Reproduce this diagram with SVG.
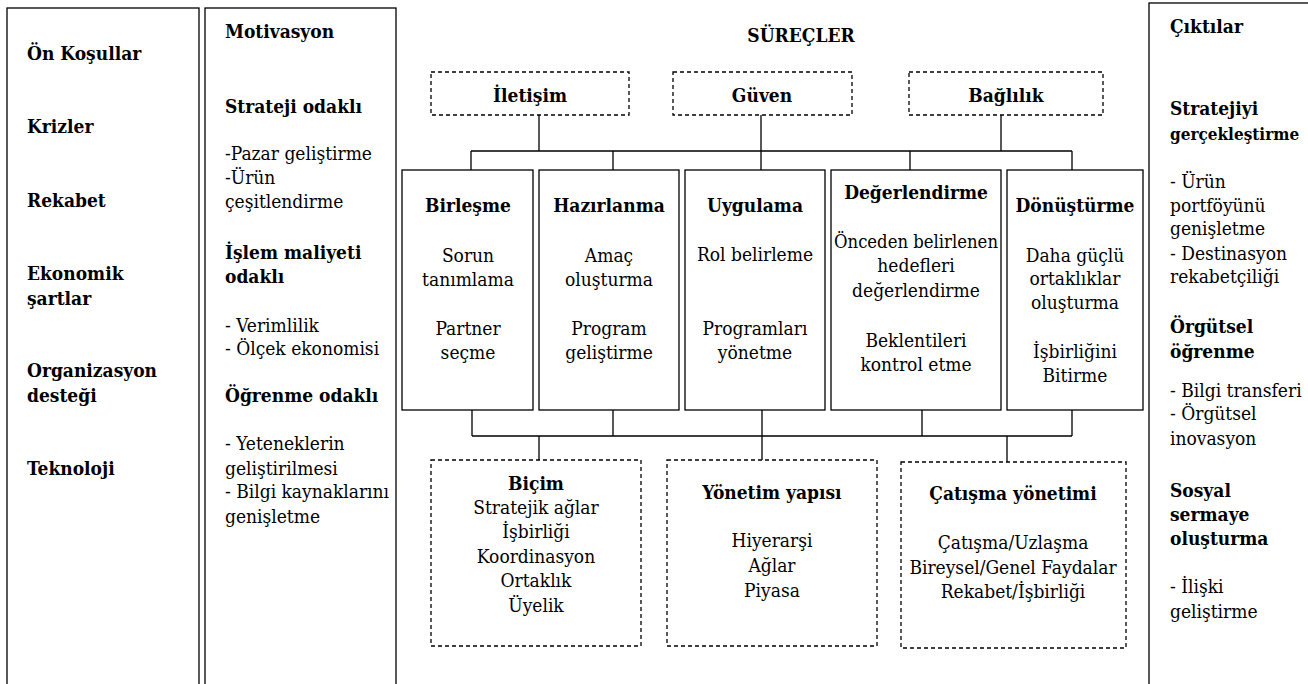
<svg xmlns="http://www.w3.org/2000/svg" width="1308" height="684" viewBox="0 0 1308 684" font-family="DejaVu Serif, serif">
<style>
text{font-family:"DejaVu Serif Condensed","DejaVu Serif",serif;font-stretch:condensed;font-size:19px;fill:#000}
.b{font-weight:bold}
.c{text-anchor:middle}
.box{fill:#fff;stroke:#000;stroke-width:1.3}
.dash{fill:#fff;stroke:#000;stroke-width:1.3;stroke-dasharray:4 3}
.ln{fill:none;stroke:#000;stroke-width:1.3}
</style>
<rect width="1308" height="684" fill="#fff"/>

<g id="on-kosullar">
<rect class="box" x="7" y="8" width="192" height="690"/>
<text class="b" x="27" y="60">Ön Koşullar</text>
<text class="b" x="27" y="133">Krizler</text>
<text class="b" x="27" y="207">Rekabet</text>
<text class="b" x="27" y="280">Ekonomik</text>
<text class="b" x="27" y="305">şartlar</text>
<text class="b" x="27" y="377">Organizasyon</text>
<text class="b" x="27" y="402">desteği</text>
<text class="b" x="27" y="475">Teknoloji</text>
</g>

<g id="motivasyon">
<rect class="box" x="205" y="8" width="191" height="690"/>
<text class="b" x="225" y="38">Motivasyon</text>
<text class="b" x="225" y="113">Strateji odaklı</text>
<text x="225" y="160">-Pazar geliştirme</text>
<text x="225" y="184">-Ürün</text>
<text x="225" y="208">çeşitlendirme</text>
<text class="b" x="225" y="259">İşlem maliyeti</text>
<text class="b" x="225" y="283">odaklı</text>
<text x="225" y="332">- Verimlilik</text>
<text x="225" y="355">- Ölçek ekonomisi</text>
<text class="b" x="225" y="402">Öğrenme odaklı</text>
<text x="225" y="450">- Yeteneklerin</text>
<text x="225" y="475">geliştirilmesi</text>
<text x="225" y="498">- Bilgi kaynaklarını</text>
<text x="225" y="523">genişletme</text>
</g>

<g id="surecler-title">
<text class="b c" x="801" y="42">SÜREÇLER</text>
</g>

<g id="connectors">
<path class="ln" d="M539 115V151M761 115V170M1001 115V151M471 151H1072M471 151V170M613 151V170M910 151V170M1072 151V170"/>
<path class="ln" d="M472 410V436M613 410V436M762 410V460M922 410V436M1072 410V436M472 436H1072M539 436V460M1007 436V462"/>
</g>

<g id="iletisim">
<rect class="dash" x="431" y="72" width="198" height="43"/>
<text class="b c" x="530" y="102">İletişim</text>
</g>
<g id="guven">
<rect class="dash" x="673" y="72" width="179" height="43"/>
<text class="b c" x="762" y="102">Güven</text>
</g>
<g id="baglilik">
<rect class="dash" x="909" y="72" width="194" height="43"/>
<text class="b c" x="1006" y="102">Bağlılık</text>
</g>

<g id="birlesme">
<rect class="box" x="402" y="170" width="131" height="240"/>
<text class="b c" x="468" y="212">Birleşme</text>
<text class="c" x="468" y="262">Sorun</text>
<text class="c" x="468" y="286">tanımlama</text>
<text class="c" x="468" y="335">Partner</text>
<text class="c" x="468" y="359">seçme</text>
</g>
<g id="hazirlanma">
<rect class="box" x="539" y="170" width="140" height="240"/>
<text class="b c" x="609" y="212">Hazırlanma</text>
<text class="c" x="609" y="262">Amaç</text>
<text class="c" x="609" y="286">oluşturma</text>
<text class="c" x="609" y="335">Program</text>
<text class="c" x="609" y="359">geliştirme</text>
</g>
<g id="uygulama">
<rect class="box" x="685" y="170" width="140" height="240"/>
<text class="b c" x="755" y="212">Uygulama</text>
<text class="c" x="755" y="261">Rol belirleme</text>
<text class="c" x="755" y="335">Programları</text>
<text class="c" x="755" y="359">yönetme</text>
</g>
<g id="degerlendirme">
<rect class="box" x="831" y="170" width="170" height="240"/>
<text class="b c" x="916" y="199">Değerlendirme</text>
<text class="c" x="916" y="248" textLength="164" lengthAdjust="spacingAndGlyphs">Önceden belirlenen</text>
<text class="c" x="916" y="272">hedefleri</text>
<text class="c" x="916" y="297">değerlendirme</text>
<text class="c" x="916" y="347">Beklentileri</text>
<text class="c" x="916" y="371">kontrol etme</text>
</g>
<g id="donusturme">
<rect class="box" x="1007" y="170" width="136" height="240"/>
<text class="b c" x="1075" y="212">Dönüştürme</text>
<text class="c" x="1075" y="262">Daha güçlü</text>
<text class="c" x="1075" y="285">ortaklıklar</text>
<text class="c" x="1075" y="309">oluşturma</text>
<text class="c" x="1075" y="358">İşbirliğini</text>
<text class="c" x="1075" y="382">Bitirme</text>
</g>

<g id="bicim">
<rect class="dash" x="431" y="460" width="210" height="186"/>
<text class="b c" x="536" y="490">Biçim</text>
<text class="c" x="536" y="514">Stratejik ağlar</text>
<text class="c" x="536" y="538">İşbirliği</text>
<text class="c" x="536" y="563">Koordinasyon</text>
<text class="c" x="536" y="587">Ortaklık</text>
<text class="c" x="536" y="612">Üyelik</text>
</g>
<g id="yonetim-yapisi">
<rect class="dash" x="667" y="460" width="210" height="186"/>
<text class="b c" x="772" y="499">Yönetim yapısı</text>
<text class="c" x="772" y="547">Hiyerarşi</text>
<text class="c" x="772" y="572">Ağlar</text>
<text class="c" x="772" y="597">Piyasa</text>
</g>
<g id="catisma-yonetimi">
<rect class="dash" x="901" y="462" width="225" height="186"/>
<text class="b c" x="1013" y="500">Çatışma yönetimi</text>
<text class="c" x="1013" y="549">Çatışma/Uzlaşma</text>
<text class="c" x="1013" y="574">Bireysel/Genel Faydalar</text>
<text class="c" x="1013" y="598">Rekabet/İşbirliği</text>
</g>

<g id="ciktilar">
<rect class="box" x="1149" y="3" width="170" height="700"/>
<text class="b" x="1170" y="33">Çıktılar</text>
<text class="b" x="1170" y="115">Stratejiyi</text>
<text class="b" x="1170" y="140" style="font-size:17px">gerçekleştirme</text>
<text x="1170" y="188">- Ürün</text>
<text x="1170" y="212">portföyünü</text>
<text x="1170" y="235">genişletme</text>
<text x="1170" y="260">- Destinasyon</text>
<text x="1170" y="283">rekabetçiliği</text>
<text class="b" x="1170" y="333">Örgütsel</text>
<text class="b" x="1170" y="358">öğrenme</text>
<text x="1170" y="397">- Bilgi transferi</text>
<text x="1170" y="420">- Örgütsel</text>
<text x="1170" y="445">inovasyon</text>
<text class="b" x="1170" y="497">Sosyal</text>
<text class="b" x="1170" y="521">sermaye</text>
<text class="b" x="1170" y="545">oluşturma</text>
<text x="1170" y="593">- İlişki</text>
<text x="1170" y="618">geliştirme</text>
</g>
</svg>
